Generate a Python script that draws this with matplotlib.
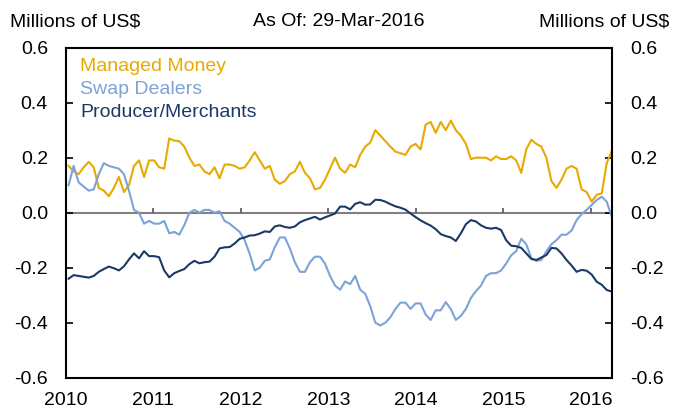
import matplotlib
matplotlib.use("Agg")
import matplotlib.pyplot as plt
import numpy as np
import pandas as pd

plt.rcParams["font.family"] = ["Liberation Sans", "DejaVu Sans"]

# Net positions, sampled every three weeks up to the report date
dates = pd.date_range(end="2016-03-29", periods=109, freq="21D")

managed_money = [
    0.17, 0.15, 0.14, 0.165, 0.185, 0.165, 0.09, 0.08, 0.06, 0.09,
    0.13, 0.075, 0.10, 0.17, 0.19, 0.13, 0.19, 0.19, 0.165, 0.16,
    0.27, 0.262, 0.26, 0.24, 0.20, 0.17, 0.175, 0.15, 0.14, 0.165,
    0.125, 0.175, 0.175, 0.17, 0.16, 0.165, 0.19, 0.22, 0.19, 0.16,
    0.17, 0.12, 0.105, 0.115, 0.14, 0.15, 0.185, 0.145, 0.125, 0.085,
    0.09, 0.12, 0.16, 0.20, 0.16, 0.145, 0.175, 0.165, 0.21, 0.24,
    0.255, 0.30, 0.28, 0.26, 0.24, 0.222, 0.216, 0.21, 0.24, 0.25,
    0.23, 0.32, 0.33, 0.29, 0.33, 0.30, 0.335, 0.30, 0.28, 0.25,
    0.195, 0.20, 0.20, 0.20, 0.19, 0.205, 0.195, 0.195, 0.205, 0.19,
    0.145, 0.23, 0.265, 0.25, 0.24, 0.20, 0.115, 0.09, 0.12, 0.16,
    0.17, 0.16, 0.085, 0.075, 0.04, 0.065, 0.07, 0.18, 0.225,
]

swap_dealers = [
    0.10, 0.17, 0.11, 0.095, 0.08, 0.085, 0.14, 0.18, 0.17, 0.165,
    0.16, 0.14, 0.08, 0.01, 0.0, -0.04, -0.03, -0.04, -0.04, -0.03,
    -0.075, -0.07, -0.08, -0.045, 0.0, 0.01, 0.0, 0.01, 0.01, 0.0,
    0.005, -0.03, -0.04, -0.055, -0.07, -0.10, -0.15, -0.21, -0.20, -0.175,
    -0.17, -0.125, -0.09, -0.09, -0.13, -0.18, -0.215, -0.215, -0.18, -0.16,
    -0.16, -0.185, -0.23, -0.265, -0.28, -0.25, -0.26, -0.23, -0.28, -0.295,
    -0.34, -0.40, -0.41, -0.40, -0.38, -0.35, -0.327, -0.327, -0.35, -0.33,
    -0.33, -0.37, -0.39, -0.355, -0.355, -0.325, -0.35, -0.39, -0.375, -0.35,
    -0.31, -0.285, -0.265, -0.23, -0.22, -0.22, -0.21, -0.185, -0.155, -0.14,
    -0.095, -0.115, -0.165, -0.175, -0.172, -0.14, -0.115, -0.10, -0.08, -0.08,
    -0.065, -0.027, -0.005, 0.01, 0.028, 0.046, 0.058, 0.04, -0.015,
]

producer_merchants = [
    -0.24, -0.227, -0.23, -0.233, -0.236, -0.23, -0.215, -0.205, -0.196, -0.202,
    -0.21, -0.195, -0.17, -0.148, -0.166, -0.14, -0.158, -0.158, -0.162, -0.21,
    -0.235, -0.22, -0.212, -0.205, -0.187, -0.175, -0.184, -0.18, -0.178, -0.16,
    -0.13, -0.126, -0.125, -0.112, -0.095, -0.09, -0.083, -0.082, -0.076, -0.068,
    -0.07, -0.05, -0.046, -0.052, -0.055, -0.05, -0.035, -0.027, -0.021, -0.015,
    -0.025, -0.017, -0.01, -0.003, 0.022, 0.022, 0.012, 0.032, 0.038, 0.029,
    0.03, 0.047, 0.046, 0.04, 0.031, 0.023, 0.018, 0.011, -0.003, -0.016,
    -0.028, -0.038, -0.047, -0.06, -0.078, -0.085, -0.09, -0.103, -0.075, -0.042,
    -0.027, -0.032, -0.046, -0.055, -0.058, -0.055, -0.063, -0.10, -0.12, -0.122,
    -0.128, -0.148, -0.168, -0.172, -0.163, -0.154, -0.128, -0.13, -0.148, -0.172,
    -0.192, -0.215, -0.208, -0.211, -0.225, -0.251, -0.262, -0.281, -0.287,
]

series = [
    ("Managed Money", managed_money, "#E8A900"),
    ("Swap Dealers", swap_dealers, "#7DA3D6"),
    ("Producer/Merchants", producer_merchants, "#1A3A66"),
]

years = list(range(2010, 2017))
yticks = [-0.6, -0.4, -0.2, 0.0, 0.2, 0.4, 0.6]


def to_year(d):
    # decimal year for a timestamp
    start = pd.Timestamp(year=d.year, month=1, day=1)
    end = pd.Timestamp(year=d.year + 1, month=1, day=1)
    return d.year + (d - start) / (end - start)


t = np.array([to_year(d) for d in dates])

fig = plt.figure(figsize=(6.73, 4.09), dpi=100)
ax = fig.add_axes([0.098, 0.0765, 0.811, 0.807])

ax.axhline(0, color="#808080", lw=1.5, zorder=1)
ax.vlines(years, 0, 0.018, color="#555555", lw=1.2, zorder=1)

for name, vals, col in series:
    ax.plot(t, vals, color=col, lw=1.5, label=name, zorder=2)

ax.set_xlim(2010, to_year(pd.Timestamp("2016-03-29")))
ax.set_ylim(-0.6, 0.6)
ax.set_yticks(yticks)
ax.set_yticklabels([f"{v:.1f}" for v in yticks])
ax.set_xticks(years)
ax.set_xticklabels([str(y) for y in years])

ax.tick_params(axis="y", direction="in", length=5, width=1.2, left=True, right=True,
               labelleft=True, labelright=True, labelsize=14, pad=13)
ax.tick_params(axis="x", length=0, labelsize=14, pad=10)
for s in ax.spines.values():
    s.set_linewidth(1.5)
    s.set_color("black")

leg = ax.legend(loc="upper left", frameon=False, handlelength=0, handletextpad=0,
                labelcolor="linecolor", fontsize=14, labelspacing=0.28,
                borderaxespad=0.0, bbox_to_anchor=(0.012, 0.994))
for h in leg.legend_handles:
    h.set_visible(False)

fig.text(0.015, 0.947, "Millions of US$", fontsize=14, ha="left", va="center")
fig.text(0.503, 0.947, "As Of: 29-Mar-2016", fontsize=14, ha="center", va="center")
fig.text(0.994, 0.947, "Millions of US$", fontsize=14, ha="right", va="center")

fig.savefig("out.png", dpi=100)
